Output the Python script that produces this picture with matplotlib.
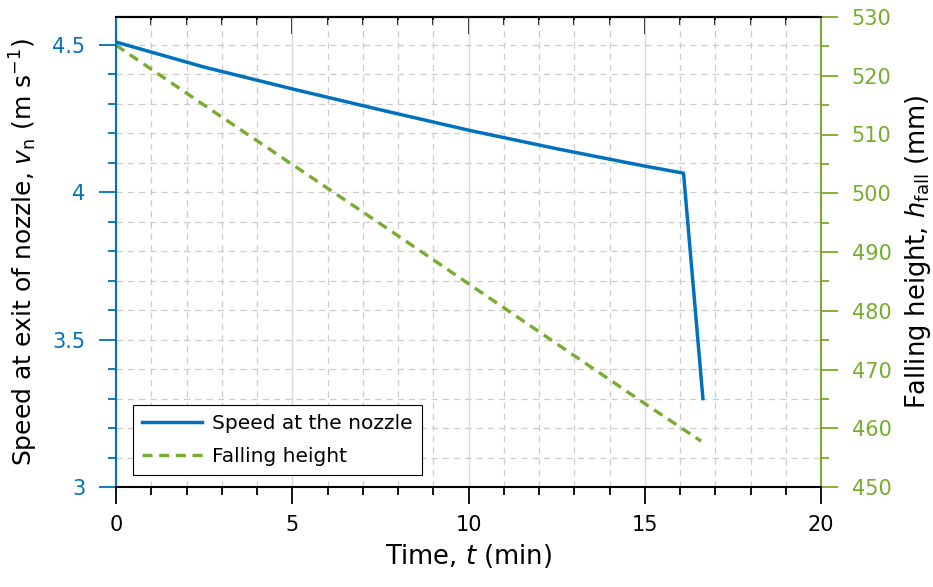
import numpy as np
import matplotlib.pyplot as plt
from matplotlib.ticker import MultipleLocator

# data
time_speed = [0, 2.5, 5, 7.5, 10, 12.5, 15, 16.1, 16.65]
speed = [4.51, 4.425, 4.351, 4.28, 4.211, 4.148, 4.089, 4.065, 3.30]
time_height = [0, 2.5, 5, 7.5, 10, 12.5, 15, 16.6]
height = [525.2, 515.0, 504.9, 494.8, 484.6, 474.4, 464.2, 457.8]

blue = '#0072BD'
green = '#77AC30'

plt.rcParams['font.family'] = 'DejaVu Sans'
plt.rcParams['mathtext.fontset'] = 'dejavusans'

fig = plt.figure(figsize=(9.33, 5.87), dpi=100)
ax = fig.add_axes([116/933, 100/587, 705/933, 470/587])
ax2 = ax.twinx()

l1, = ax.plot(time_speed, speed, color=blue, lw=2.5, label='Speed at the nozzle', zorder=3)
l2, = ax2.plot(time_height, height, color=green, lw=2.4, ls=(0, (3, 2)), label='Falling height')

ax.set_xlim(0, 20)
ax.set_ylim(3, 4.595)
ax2.set_ylim(450, 530)

ax.xaxis.set_major_locator(MultipleLocator(5))
ax.xaxis.set_minor_locator(MultipleLocator(1))
ax.yaxis.set_major_locator(MultipleLocator(0.5))
ax.yaxis.set_minor_locator(MultipleLocator(0.1))
ax2.yaxis.set_major_locator(MultipleLocator(10))
ax2.yaxis.set_minor_locator(MultipleLocator(5))
ax.yaxis.set_major_formatter(lambda v, p: '%g' % v)

# grid
ax.grid(which='major', axis='x', color='#d9d9d9', lw=1.0, ls='-')
ax.grid(which='minor', axis='x', color='#cccccc', lw=0.9, ls=(0, (5, 4)))
ax.grid(which='both', axis='y', color='#cccccc', lw=0.9, ls=(0, (5, 4)))
ax.set_axisbelow(True)

# ticks
ax.tick_params(axis='x', which='major', direction='out', length=12, width=1.3, labelsize=15, pad=8, colors='black')
ax.tick_params(axis='x', which='minor', direction='out', length=6, width=1.3)
ax.tick_params(axis='y', which='major', direction='out', length=12, width=1.3, labelsize=15, pad=10, colors=blue)
ax.tick_params(axis='y', which='minor', direction='out', length=6, width=1.3, colors=blue)
ax2.tick_params(axis='y', which='major', direction='out', length=12, width=1.3, labelsize=15, pad=10, colors=green)
ax2.tick_params(axis='y', which='minor', direction='out', length=6, width=1.3, colors=green)

top = ax.secondary_xaxis('top')
top.xaxis.set_major_locator(MultipleLocator(5))
top.xaxis.set_minor_locator(MultipleLocator(1))
top.tick_params(which='major', direction='in', length=12, width=1.3, labeltop=False)
top.tick_params(which='minor', direction='in', length=6, width=1.3)
top.spines['top'].set_linewidth(1.5)

for s in ['left', 'right', 'top', 'bottom']:
    ax.spines[s].set_visible(False)
    ax2.spines[s].set_linewidth(1.5)
ax2.spines['left'].set_color(blue)
ax2.spines['right'].set_color(green)
ax2.spines['bottom'].set_color('black')
ax2.spines['top'].set_color('black')

ax.set_xlabel('Time, $t$ (min)', fontsize=18.5, labelpad=5)
ax.set_ylabel('Speed at exit of nozzle, $v_\\mathrm{n}$ (m s$^{-1}$)', fontsize=18, labelpad=9)
ax2.set_ylabel('Falling height, $h_\\mathrm{fall}$ (mm)', fontsize=18.5, labelpad=8)

leg = ax2.legend([l1, l2], ['Speed at the nozzle', 'Falling height'], loc='lower left',
                 bbox_to_anchor=(0.024, 0.025), borderaxespad=0, fontsize=14.5, frameon=True,
                 fancybox=False, edgecolor='black', framealpha=1, handlelength=3.0,
                 borderpad=0.45, labelspacing=0.7, handletextpad=0.5)
leg.get_frame().set_linewidth(0.8)

fig.savefig('out.png', dpi=100)
